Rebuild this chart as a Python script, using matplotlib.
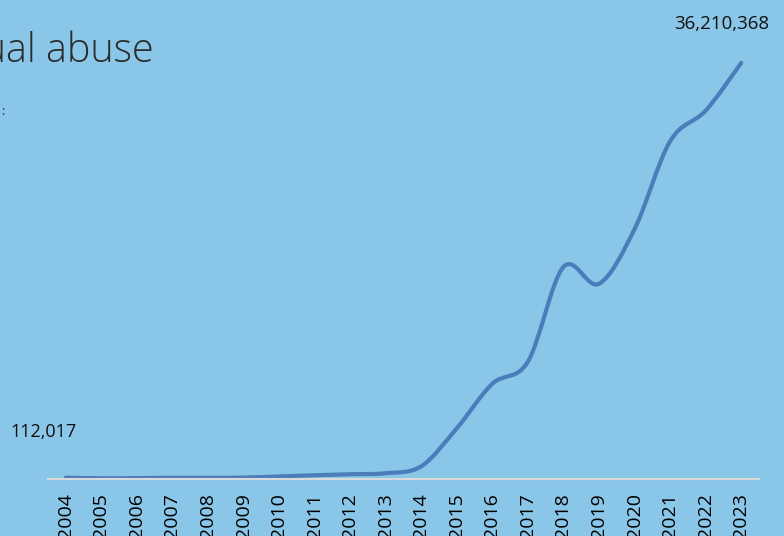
import matplotlib.pyplot as plt
from matplotlib.path import Path
from matplotlib.patches import PathPatch

plt.rcParams['font.family'] = ['Open Sans', 'DejaVu Sans']

years = list(range(2004, 2024))
reports = [112017, 64250, 76584, 105185, 102029, 120570, 223374, 326310,
           415650, 505280, 1106072, 4417963, 8294102, 10214753, 18462424,
           16987361, 21751085, 29397681, 32059029, 36210368]
first_label = "112,017"
last_label = "36,210,368"

bg = '#89c6e8'
line_color = '#4a7ebb'


def smooth_path(xs, ys):
    # cubic bezier through every point, tangents like a catmull-rom spline
    verts = [(xs[0], ys[0])]
    codes = [Path.MOVETO]
    n = len(xs)
    for i in range(n - 1):
        x0, y0 = (xs[i - 1], ys[i - 1]) if i > 0 else (xs[i], ys[i])
        x1, y1 = xs[i], ys[i]
        x2, y2 = xs[i + 1], ys[i + 1]
        x3, y3 = (xs[i + 2], ys[i + 2]) if i + 2 < n else (x2, y2)
        c1 = (x1 + (x2 - x0) / 6, y1 + (y2 - y0) / 6)
        c2 = (x2 - (x3 - x1) / 6, y2 - (y3 - y1) / 6)
        verts += [c1, c2, (x2, y2)]
        codes += [Path.CURVE4] * 3
    return Path(verts, codes)


fig = plt.figure(figsize=(7.84, 5.36), dpi=100, facecolor=bg)
ax = fig.add_axes([48 / 784, 57 / 536, 711 / 784, 0.8575])
ax.set_facecolor(bg)

ax.add_patch(PathPatch(smooth_path(years, reports), fill=False,
                       edgecolor=line_color, lw=3, capstyle='round',
                       joinstyle='round'))

ax.set_xlim(2003.5, 2023.5)
ax.set_ylim(0, 40e6)
ax.set_xticks(years)
ax.set_xticklabels([str(y) for y in years], rotation=90, fontsize=14)
ax.tick_params(axis='x', length=0, pad=10, colors='black')
ax.set_yticks([])
for side in ['top', 'right', 'left']:
    ax.spines[side].set_visible(False)
ax.spines['bottom'].set_color('#d9d9d9')
ax.spines['bottom'].set_linewidth(1.5)

ax.annotate(first_label, (years[0], reports[0]), xytext=(-16, 33),
            textcoords='offset points', ha='center', va='center',
            fontsize=13, color='#111111')
ax.annotate(last_label, (years[-1], reports[-1]), xytext=(-14, 28),
            textcoords='offset points', ha='center', va='center',
            fontsize=13.5, color='#111111')

fig.text(154 / 784, 1 - 62 / 536, "Reports of child sexual abuse",
         ha='right', va='baseline', fontsize=28.5, fontweight='light',
         color='#2b2b2b')
fig.text(3 / 784, 1 - 112 / 536, ":", ha='center', va='center',
         fontsize=9, color='#1f3864')

fig.savefig('out.png', dpi=100, facecolor=bg)
